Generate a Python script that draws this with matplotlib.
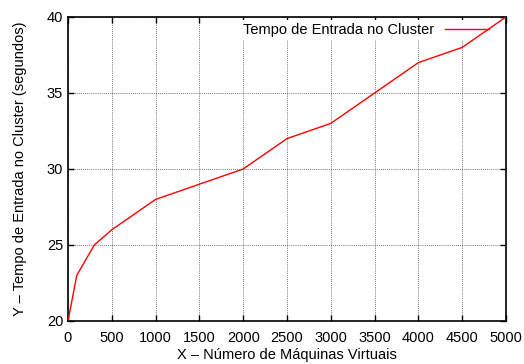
import matplotlib
matplotlib.use('Agg')
import matplotlib.pyplot as plt

# Dados
maquinas = [0, 100, 300, 500, 1000, 2000, 2500, 3000, 3500, 4000, 4500, 5000]
tempo = [20, 23, 25, 26, 28, 30, 32, 33, 35, 37, 38, 40]
xticks = [0, 500, 1000, 1500, 2000, 2500, 3000, 3500, 4000, 4500, 5000]
yticks = [20, 25, 30, 35, 40]

plt.rcParams['font.family'] = ['Liberation Sans', 'DejaVu Sans']
plt.rcParams['font.size'] = 10.5

fig = plt.figure(figsize=(5.24, 3.64), dpi=100)
ax = fig.add_axes([68 / 524, 1 - 321 / 364, 438 / 524, 304 / 364])

ax.plot(maquinas, tempo, color='red', linewidth=1.0, label='Tempo de Entrada no Cluster', zorder=3)

ax.set_xlim(0, 5000)
ax.set_ylim(20, 40)
ax.set_xticks(xticks)
ax.set_yticks(yticks)
ax.tick_params(axis='x', pad=7)
ax.tick_params(direction='in', length=4, width=1, top=True, right=True, labelsize=10.5)
ax.grid(True, linestyle=(0, (1, 1.5)), color='#444444', linewidth=0.6)
ax.set_axisbelow(True)
for s in ax.spines.values():
    s.set_linewidth(1.2)

ax.set_xlabel('X – Número de Máquinas Virtuais', labelpad=2.5)
ax.set_ylabel('Y – Tempo de Entrada no Cluster (segundos)', labelpad=14)

# legenda com fundo branco, por baixo da curva (estilo gnuplot)
leg = ax.legend(loc='upper right', frameon=True, fancybox=False, handlelength=3.0,
                markerfirst=False, borderaxespad=0.2, borderpad=0.2, handletextpad=0.8,
                bbox_to_anchor=(0.975, 1.0))
leg.get_frame().set_edgecolor('none')
leg.get_frame().set_facecolor('white')
leg.get_frame().set_alpha(1)
leg.set_zorder(1.5)

fig.savefig('out.png', dpi=100)
